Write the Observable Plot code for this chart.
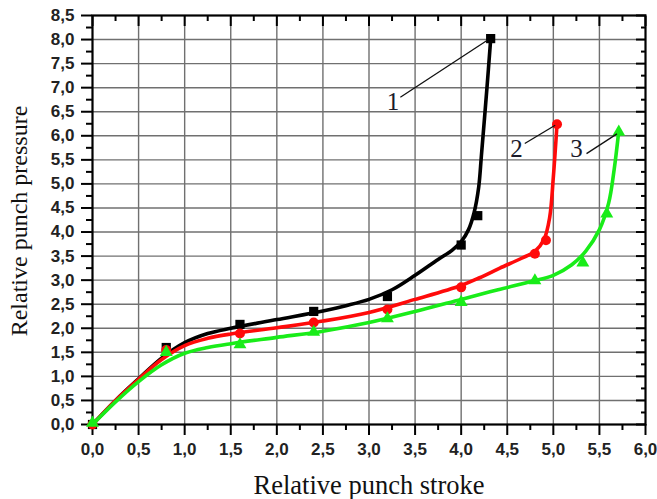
<!DOCTYPE html>
<html><head><meta charset="utf-8">
<script src="https://cdn.jsdelivr.net/npm/d3@7"></script>
<script src="https://cdn.jsdelivr.net/npm/@observablehq/plot@0.6"></script>
<style>
html,body{margin:0;padding:0;background:#fff}
#chart svg{display:block}
</style>
</head><body><div id="chart"></div>
<script>
// axis ticks
const xTicks = [0,0.5,1,1.5,2,2.5,3,3.5,4,4.5,5,5.5,6];
const yTicks = [0,0.5,1,1.5,2,2.5,3,3.5,4,4.5,5,5.5,6,6.5,7,7.5,8,8.5];
const xMinor = [0.25,0.75,1.25,1.75,2.25,2.75,3.25,3.75,4.25,4.75,5.25,5.75];
const yMinor = [0.25,0.75,1.25,1.75,2.25,2.75,3.25,3.75,4.25,4.75,5.25,5.75,6.25,6.75,7.25,7.75,8.25];
const xTitle = "Relative punch stroke";
const yTitle = "Relative punch pressure";

// curve 1 (black squares)
const blackX = [0,0.8,1.6,2.4,3.2,4.0,4.18,4.32];
const blackY = [0,1.6,2.08,2.35,2.66,3.73,4.34,8.02];
const blackFitX = [0,0.25,0.5,0.75,1.0,1.25,1.5,2.0,2.5,2.75,3.0,3.25,3.5,3.75,3.9,4.0,4.08,4.14,4.19,4.22,4.28,4.32];
const blackFitY = [0,0.5,0.95,1.38,1.7,1.89,2.0,2.18,2.36,2.47,2.6,2.8,3.1,3.43,3.62,3.8,4.05,4.4,4.93,5.6,7.0,8.0];
// curve 2 (red circles)
const redX = [0,0.8,1.6,2.4,3.2,4.0,4.8,4.92,5.04];
const redY = [0,1.55,1.89,2.12,2.39,2.85,3.55,3.83,6.24];
const redFitX = [0,0.25,0.5,0.75,1.0,1.25,1.5,2.0,2.5,3.0,3.5,4.0,4.2,4.42,4.65,4.8,4.9,4.96,5.0,5.04];
const redFitY = [0,0.5,0.94,1.35,1.64,1.79,1.88,2.01,2.15,2.33,2.6,2.89,3.05,3.25,3.45,3.6,3.85,4.3,5.14,6.24];
// curve 3 (green triangles)
const greenX = [0,0.8,1.6,2.4,3.2,4.0,4.8,5.32,5.58,5.71];
const greenY = [0.03,1.5,1.66,1.92,2.2,2.54,2.99,3.36,4.38,6.08];
const greenFitX = [0,0.25,0.5,0.75,1.0,1.25,1.5,2.0,2.5,3.0,3.5,4.0,4.4,4.78,5.0,5.2,5.35,5.5,5.6,5.66,5.71];
const greenFitY = [0,0.47,0.89,1.24,1.48,1.6,1.68,1.81,1.94,2.12,2.35,2.6,2.8,2.98,3.1,3.32,3.6,4.05,4.6,5.3,6.1];

// curve labels and leader lines
const labelText = ["1","2","3"];
const labelX = [3.26,4.6,5.25];
const labelY = [6.7,5.73,5.73];
const leadX1 = [3.34,4.69,5.36];
const leadY1 = [6.8,5.84,5.63];
const leadX2 = [4.28,5.02,5.69];
const leadY2 = [7.98,6.22,6.04];

const pts = (xs, ys) => xs.map((x, i) => ({x, y: ys[i]}));
const fmt = d => d.toFixed(1).replace(".", ",");
const labels = labelText.map((t, i) => ({t, x: labelX[i], y: labelY[i]}));
const leaders = labelText.map((t, i) => ({x1: leadX1[i], y1: leadY1[i], x2: leadX2[i], y2: leadY2[i]}));

const GREEN = "#19ec19", RED = "#ff0a0a";
const SERIF = "'Liberation Serif', 'Times New Roman', serif";
const SANS = "'Liberation Sans', Arial, sans-serif";
const TICK_PX = 17;
const tickFont = {fontFamily: SANS, fontSize: TICK_PX, fontWeight: "bold", fill: "#222"};

const series = [
  {fit: pts(blackFitX, blackFitY), dots: pts(blackX, blackY), color: "#000", symbol: "square", r: 5.2},
  {fit: pts(redFitX, redFitY), dots: pts(redX, redY), color: RED, symbol: "circle", r: 5},
  {fit: pts(greenFitX, greenFitY), dots: pts(greenX, greenY), color: GREEN, symbol: "triangle", r: 4.8}
];

const marks = [
  Plot.gridX(xTicks.slice(1, -1), {stroke: "#707070", strokeOpacity: 1, strokeWidth: 1.4}),
  Plot.gridY(yTicks.slice(1, -1), {stroke: "#707070", strokeOpacity: 1, strokeWidth: 1.4}),
  // bottom / left outward ticks with labels
  Plot.axisX(xTicks, {anchor: "bottom", tickSize: 11, tickPadding: 7, tickFormat: fmt, strokeWidth: 2, label: null, ...tickFont}),
  Plot.axisX(xMinor, {anchor: "bottom", tickSize: 6, tickFormat: () => "", strokeWidth: 2, label: null}),
  Plot.axisY(yTicks, {anchor: "left", tickSize: 11, tickPadding: 7, tickFormat: fmt, strokeWidth: 2, label: null, ...tickFont}),
  Plot.axisY(yMinor, {anchor: "left", tickSize: 6, tickFormat: () => "", strokeWidth: 2, label: null}),
  // top / right inward ticks
  Plot.axisX(xTicks, {anchor: "top", tickSize: 10, dy: 10, tickFormat: () => "", strokeWidth: 2, label: null}),
  Plot.axisX(xMinor, {anchor: "top", tickSize: 5, dy: 5, tickFormat: () => "", strokeWidth: 2, label: null}),
  Plot.axisY(yTicks, {anchor: "right", tickSize: 10, dx: -10, tickFormat: () => "", strokeWidth: 2, label: null}),
  Plot.axisY(yMinor, {anchor: "right", tickSize: 5, dx: -5, tickFormat: () => "", strokeWidth: 2, label: null}),
  Plot.frame({stroke: "#000", strokeWidth: 2.2})
];
for (const s of series) {
  marks.push(Plot.line(s.fit, {x: "x", y: "y", stroke: s.color, strokeWidth: 3.6, curve: "catmull-rom"}));
  marks.push(Plot.dot(s.dots, {x: "x", y: "y", symbol: () => s.symbol, fill: s.color, stroke: "none", r: s.r}));
}
marks.push(
  Plot.link(leaders, {x1: "x1", y1: "y1", x2: "x2", y2: "y2", stroke: "#111", strokeWidth: 1.3}),
  Plot.text(labels, {x: "x", y: "y", text: "t", fontFamily: SERIF, fontSize: 25, fill: "#1a1a2a"}),
  Plot.text([xTitle], {text: d => d, frameAnchor: "bottom", dy: 69, lineAnchor: "bottom", textAnchor: "middle", fontFamily: SERIF, fontSize: 26.5, fill: "#111"}),
  Plot.text([yTitle], {text: d => d, frameAnchor: "left", dx: -66, dy: 1, rotate: -90, lineAnchor: "bottom", textAnchor: "middle", fontFamily: SERIF, fontSize: 24, fill: "#111"})
);

const chart = Plot.plot({
  width: 657, height: 499,
  marginLeft: 92, marginRight: 12, marginTop: 15, marginBottom: 75,
  x: {domain: [0, 6]},
  y: {domain: [0, 8.5]},
  symbol: {type: "identity"},
  style: {background: "#fff", overflow: "visible"},
  marks
});
for (const t of chart.querySelectorAll("text")) {
  if (/^\d,\d$/.test(t.textContent.trim())) {
    t.style.fontSize = TICK_PX + "px";
    t.style.fontWeight = "bold";
    t.style.fontFamily = SANS;
    t.style.fill = "#222";
  }
}
document.getElementById("chart").appendChild(chart);
</script>
</body></html>
